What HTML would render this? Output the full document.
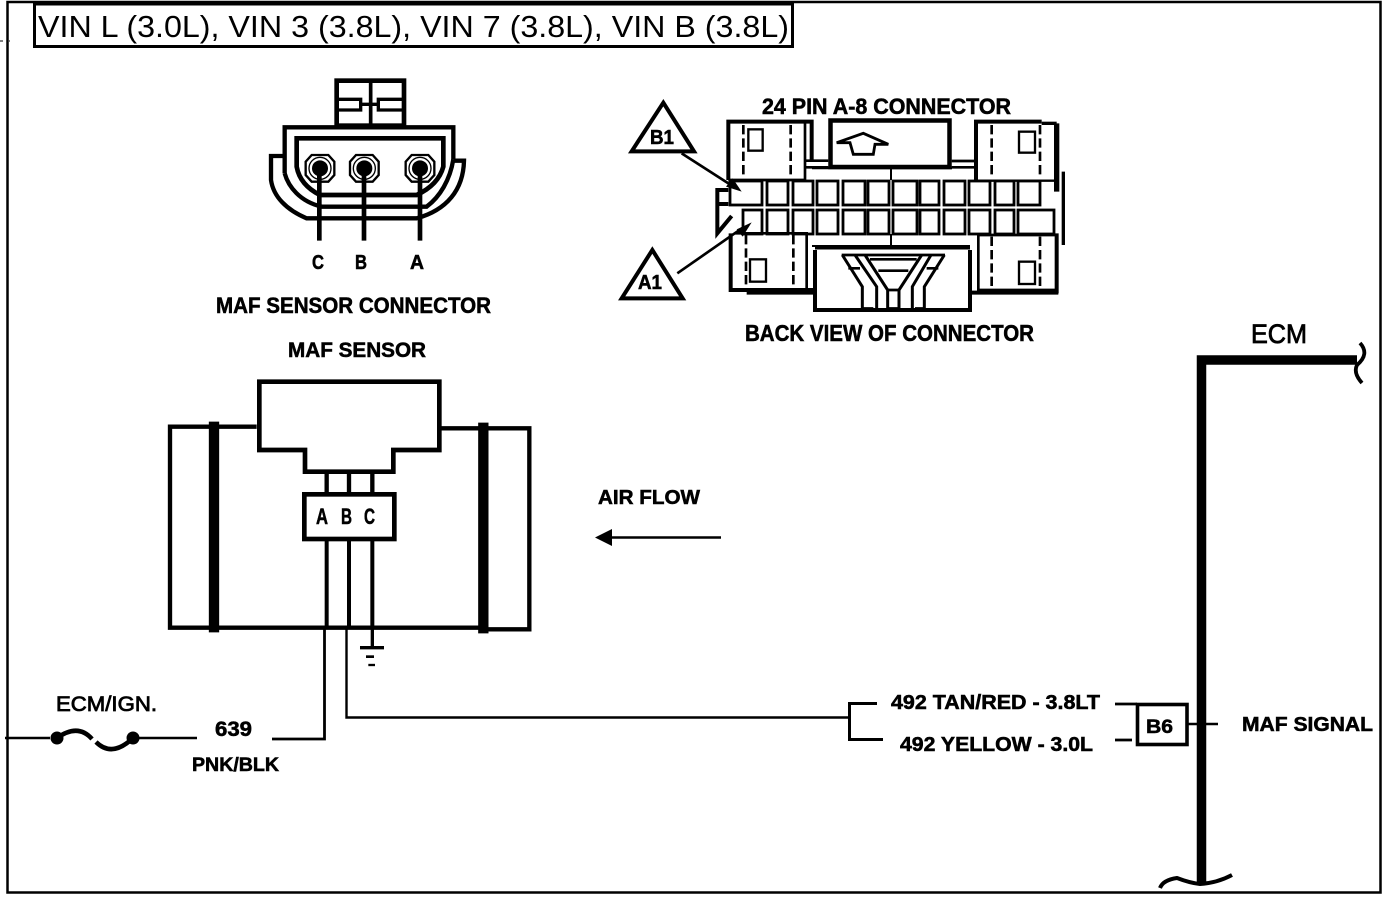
<!DOCTYPE html>
<html><head><meta charset="utf-8"><style>
html,body{margin:0;padding:0;background:#fff;width:1392px;height:898px;overflow:hidden}
svg{display:block}
text{font-family:"Liberation Sans",sans-serif;fill:#000}
.b{font-weight:bold;stroke:#000;stroke-width:.55}
</style></head><body>
<svg width="1392" height="898" viewBox="0 0 1392 898" xmlns="http://www.w3.org/2000/svg" fill="none" stroke="#000" stroke-linecap="butt" stroke-linejoin="miter">
<rect width="1392" height="898" fill="#fff" stroke="none"/>
<!-- frame -->
<path d="M7.5 2H1380.5V892.5H7.5Z" stroke-width="2.5"/>
<path d="M0 41H3M9 41H10" stroke-width="1"/>
<rect x="34.5" y="4" width="758" height="42.5" stroke-width="3" fill="#fff"/>
<text x="38" y="37" font-size="31" textLength="751" lengthAdjust="spacingAndGlyphs" stroke="none">VIN L (3.0L), VIN 3 (3.8L), VIN 7 (3.8L), VIN B (3.8L)</text>

<!-- MAF connector -->
<g transform="translate(250,70) scale(.33333)">
<rect x="260" y="32" width="202" height="135" stroke-width="14"/>
<path d="M362 32V165" stroke-width="11"/>
<path d="M265 88H332V120H265M332 103H388M460 88H385V120H460" stroke-width="10"/>
<path d="M104 310V172H610V268" stroke-width="13"/>
<path d="M104 310C115 350 150 395 215 410H530C570 380 600 330 610 268" stroke-width="13"/>
<path d="M140 205H580V290Q565 345 500 375H210Q150 345 140 290Z" stroke-width="14"/>
<path d="M100 258H63V330C70 380 110 420 170 445H500C590 420 640 360 642 272H612" stroke-width="13"/>
<g stroke-width="7">
<path d="M185 255H235L253 275V315L235 335H185L167 315V275Z"/>
<path d="M318 255H368L386 275V315L368 335H318L300 315V275Z"/>
<path d="M485 255H535L553 275V315L535 335H485L467 315V275Z"/>
</g>
<circle cx="210" cy="295" r="33" stroke-width="4"/>
<circle cx="343" cy="295" r="33" stroke-width="4"/>
<circle cx="510" cy="295" r="33" stroke-width="4"/>
<circle cx="210" cy="295" r="24" fill="#000" stroke="none"/>
<circle cx="343" cy="295" r="24" fill="#000" stroke="none"/>
<circle cx="510" cy="295" r="24" fill="#000" stroke="none"/>
<path d="M208 295V512M342 295V512M510 295V512" stroke-width="14"/>
</g>
<g class="t">
<text class="b" x="312" y="269" font-size="20" textLength="12" lengthAdjust="spacingAndGlyphs">C</text>
<text class="b" x="355" y="269" font-size="20" textLength="12" lengthAdjust="spacingAndGlyphs">B</text>
<text class="b" x="410" y="269" font-size="20" textLength="14" lengthAdjust="spacingAndGlyphs">A</text>
<text class="b" x="216" y="313" font-size="22" textLength="275" lengthAdjust="spacingAndGlyphs">MAF SENSOR CONNECTOR</text>
<text class="b" x="288" y="357" font-size="21" textLength="138" lengthAdjust="spacingAndGlyphs">MAF SENSOR</text>
<text class="b" x="762" y="114" font-size="22" textLength="249" lengthAdjust="spacingAndGlyphs">24 PIN A-8 CONNECTOR</text>
<text class="b" x="745" y="341" font-size="23" textLength="289" lengthAdjust="spacingAndGlyphs">BACK VIEW OF CONNECTOR</text>
<text class="b" x="598" y="504" font-size="20" textLength="102" lengthAdjust="spacingAndGlyphs">AIR FLOW</text>
<text x="1251" y="343" font-size="27" textLength="56" lengthAdjust="spacingAndGlyphs" stroke="#000" stroke-width=".8">ECM</text>
<text x="56" y="711" font-size="21" textLength="101" lengthAdjust="spacingAndGlyphs" stroke="#000" stroke-width=".8">ECM/IGN.</text>
<text class="b" x="215" y="736" font-size="21" textLength="37" lengthAdjust="spacingAndGlyphs">639</text>
<text class="b" x="192" y="771" font-size="19" textLength="87" lengthAdjust="spacingAndGlyphs">PNK/BLK</text>
<text class="b" x="891" y="709" font-size="20" textLength="209" lengthAdjust="spacingAndGlyphs">492 TAN/RED - 3.8LT</text>
<text class="b" x="900" y="751" font-size="20" textLength="193" lengthAdjust="spacingAndGlyphs">492 YELLOW - 3.0L</text>
<text class="b" x="1146" y="733" font-size="19" textLength="27" lengthAdjust="spacingAndGlyphs">B6</text>
<text class="b" x="1242" y="731" font-size="20" textLength="131" lengthAdjust="spacingAndGlyphs">MAF SIGNAL</text>
<text class="b" x="316" y="524" font-size="22" textLength="12" lengthAdjust="spacingAndGlyphs">A</text>
<text class="b" x="341" y="524" font-size="22" textLength="11" lengthAdjust="spacingAndGlyphs">B</text>
<text class="b" x="364" y="524" font-size="22" textLength="11" lengthAdjust="spacingAndGlyphs">C</text>
<text class="b" x="650" y="144" font-size="20" textLength="24" lengthAdjust="spacingAndGlyphs">B1</text>
<text class="b" x="638" y="289" font-size="20" textLength="24" lengthAdjust="spacingAndGlyphs">A1</text>
</g>

<!-- 24 pin connector left part -->
<g transform="translate(620,90) scale(.33333)">
<path d="M130 38L222 184H35Z" stroke-width="12"/>
<path d="M97 480L188 625H5Z" stroke-width="12"/>
<path d="M185 190L345 293" stroke-width="8"/>
<path d="M365 305L318 290L338 265Z" fill="#000" stroke="none"/>
<path d="M172 550L370 412" stroke-width="8"/>
<path d="M395 397L350 418L368 440Z" fill="#000" stroke="none"/>
<path d="M325 270V95H575V210" stroke-width="12"/>
<path d="M325 270H555V100" stroke-width="8"/>
<path d="M370 105V265M512 105V265" stroke-width="8" stroke-dasharray="28 12"/>
<rect x="385" y="118" width="43" height="64" stroke-width="7"/>
<path d="M555 212H625M555 232H625" stroke-width="8"/>
<path d="M325 300H292V430L335 378M325 342H296" stroke-width="12"/>
<path d="M332 430V600H585" stroke-width="12"/>
<path d="M345 430H560V595" stroke-width="8"/>
<path d="M378 435V595M520 435V595" stroke-width="8" stroke-dasharray="28 12"/>
<rect x="390" y="508" width="48" height="67" stroke-width="7"/>
<path d="M380 610H585" stroke-width="8"/>
</g>
<!-- 24 pin connector right part -->
<g transform="translate(850,90) scale(.33333)">
<path d="M378 270V95H575" stroke-width="12"/>
<path d="M575 100H620" stroke-width="10"/>
<path d="M620 100V305" stroke-width="16"/>
<path d="M620 430V610" stroke-width="12"/>
<path d="M640 245V465" stroke-width="10"/>
<path d="M378 272H620" stroke-width="7"/>
<path d="M425 105V265M570 105V265" stroke-width="8" stroke-dasharray="28 12"/>
<rect x="507" y="125" width="48" height="63" stroke-width="7"/>
<path d="M305 213H378M305 232H378" stroke-width="8"/>
<path d="M385 435V600H625M385 435H620" stroke-width="8"/>
<path d="M425 440V598M570 440V598" stroke-width="8" stroke-dasharray="28 12"/>
<rect x="507" y="515" width="48" height="67" stroke-width="7"/>
<path d="M360 608H625" stroke-width="12"/>
</g>
<!-- center rect & arrow -->
<rect x="830.5" y="120.5" width="119" height="46.500" stroke-width="4.500"/>
<path d="M836.7 142.7L863.3 133.3L888.3 144.3H875L873.3 154.3H853.3L850 142.7Z" stroke-width="2.800"/>
<path d="M812 168H952" stroke-width="2.500"/>
<path d="M891 168V180M891 234V246M812 246H970" stroke-width="2"/>
<!-- pin cells -->
<g stroke-width="2.800">
<rect x="730" y="181" width="32" height="24"/><rect x="767" y="181" width="21" height="24"/><rect x="793" y="181" width="20" height="24"/><rect x="817" y="181" width="21" height="24"/><rect x="843" y="181" width="22" height="24"/><rect x="868" y="181" width="21" height="24"/><rect x="893" y="181" width="24" height="24"/><rect x="920" y="181" width="19" height="24"/><rect x="944" y="181" width="21" height="24"/><rect x="969" y="181" width="21" height="24"/><rect x="995" y="181" width="19" height="24"/><rect x="1018" y="181" width="22" height="24"/>
<rect x="743" y="210" width="19" height="24"/><rect x="767" y="210" width="21" height="24"/><rect x="793" y="210" width="20" height="24"/><rect x="817" y="210" width="21" height="24"/><rect x="843" y="210" width="22" height="24"/><rect x="868" y="210" width="21" height="24"/><rect x="893" y="210" width="24" height="24"/><rect x="920" y="210" width="19" height="24"/><rect x="944" y="210" width="21" height="24"/><rect x="969" y="210" width="21" height="24"/><rect x="995" y="210" width="19" height="24"/><rect x="1018" y="210" width="36" height="24"/>
</g>
<!-- bottom center Y -->
<g transform="translate(805,240) scale(.33333)">
<path d="M30 30V210H495V30" stroke-width="12"/>
<path d="M30 24H495" stroke-width="9"/>
<path d="M110 45H420M195 58H335M220 92H310M248 150H282" stroke-width="8"/>
<path d="M112 45L172 140V205M150 45L215 140V205M180 45L248 150V205M350 45L282 150V205M378 45L322 140V205M418 45L358 140V205" stroke-width="9"/>
<path d="M130 85H165M365 85H400" stroke-width="8"/>
<path d="M175 205H205M250 205H280M330 205H360" stroke-width="7"/>
</g>

<!-- MAF sensor -->
<g transform="translate(160,370) scale(.33333)">
<path d="M298 240V35H838V240H700V305H435V240Z" stroke-width="14"/>
<path d="M290 170H30V773H960" stroke-width="13"/>
<path d="M840 175H1108V778H960" stroke-width="13"/>
<path d="M162 155V787" stroke-width="31"/>
<path d="M970 158V790" stroke-width="31"/>
<path d="M500 305V370M567 305V370M637 305V370" stroke-width="13"/>
<rect x="433" y="373" width="270" height="134" stroke-width="14"/>
<path d="M500 507V773M567 507V773M637 507V773" stroke-width="12"/>
<path d="M637 773V830" stroke-width="10"/>
<path d="M600 833H672" stroke-width="10"/>
<path d="M618 860H642" stroke-width="8"/>
<path d="M625 885H645" stroke-width="7"/>
</g>
<!-- wires -->
<path d="M324.5 628V739H272" stroke-width="2.800"/>
<path d="M346.5 628V717.500H849" stroke-width="2.400"/>
<path d="M5 738H50M133 738H197" stroke-width="2.400"/>
<circle cx="57" cy="738" r="6.500" fill="#000" stroke="none"/>
<circle cx="133" cy="738" r="6.500" fill="#000" stroke="none"/>
<path d="M57 738Q78 723 92 739M96 742Q112 758 133 738" stroke-width="4.500"/>
<path d="M877 703.500H849.500V739.500H883" stroke-width="3"/>
<path d="M1115 704H1137M1115 740H1132" stroke-width="2.800"/>
<rect x="1137.500" y="704.500" width="49.500" height="40" stroke-width="3.600"/>
<path d="M1187 724H1218" stroke-width="2.400"/>
<!-- ECM bar -->
<path d="M1201.500 883V360H1357" stroke-width="9.500"/>
<path d="M1360 343Q1370 354 1357 365Q1353 373 1362 383" stroke-width="3.800"/>
<path d="M1160 888Q1163 880 1177 878Q1190 883 1200 884Q1217 883 1232 875" stroke-width="4"/>
<!-- air flow arrow -->
<path d="M610 537.500H721" stroke-width="2.400"/>
<path d="M595 537.500L612 529V546Z" fill="#000" stroke="none"/>
</svg>
</body></html>
